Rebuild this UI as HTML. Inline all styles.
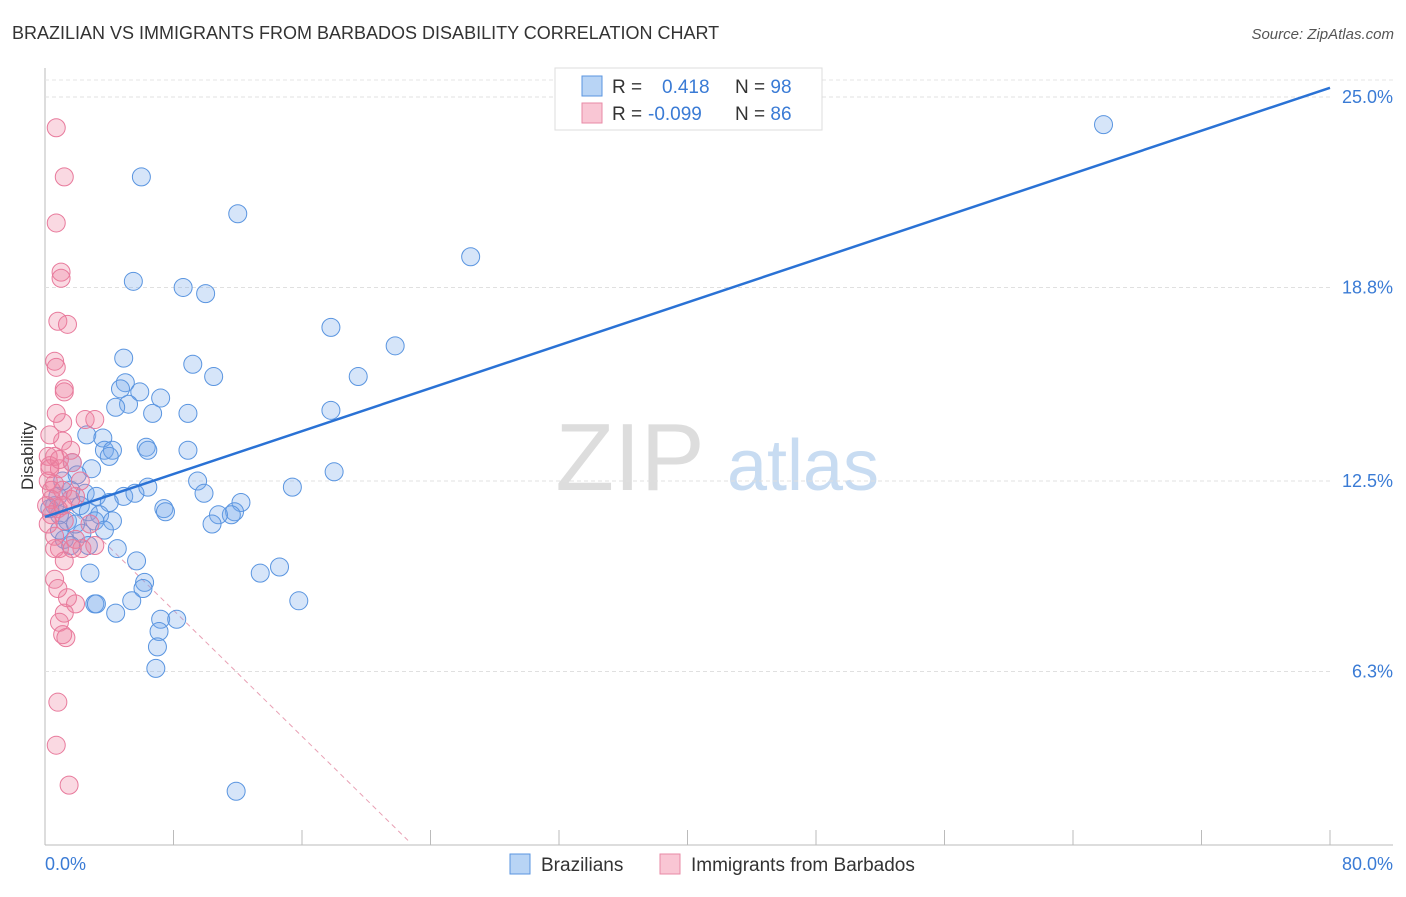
<!DOCTYPE html>
<html><head><meta charset="utf-8"><style>
body{margin:0;background:#fff;font-family:"Liberation Sans",sans-serif}
svg text{font-family:"Liberation Sans",sans-serif}
</style></head><body>
<svg id="c" width="1406" height="892">
<text x="12" y="39" font-size="18" fill="#333">BRAZILIAN VS IMMIGRANTS FROM BARBADOS DISABILITY CORRELATION CHART</text>
<text x="1394" y="39" font-size="15" fill="#555" font-style="italic" text-anchor="end">Source: ZipAtlas.com</text>
<text x="33" y="456" font-size="17" fill="#333" transform="rotate(-90 33 456)" text-anchor="middle">Disability</text>
<g><text x="630" y="490" font-size="96" fill="#ddd" font-family="Liberation Serif" text-anchor="middle">ZIP</text><text x="803" y="490" font-size="72" fill="#c8dcf2" text-anchor="middle">atlas</text></g>
<line x1="45" y1="68" x2="45" y2="845" stroke="#bbb"/>
<line x1="45" y1="845" x2="1393" y2="845" stroke="#bbb"/>
<line x1="45" y1="80" x2="1393" y2="80" stroke="#e4e4e4" stroke-dasharray="4 3"/>
<g id="grid"></g><g id="ticks"></g><g id="lines"></g><g id="pts"></g>
<text x="45" y="870" font-size="18" fill="#3a7bd5">0.0%</text>
<text x="1393" y="870" font-size="18" fill="#3a7bd5" text-anchor="end">80.0%</text>
<g>
<rect x="555" y="68" width="267" height="62" fill="#fff" stroke="#ddd"/>
<rect x="582" y="76" width="20" height="20" fill="#b8d4f5" stroke="#5a95e0"/>
<rect x="582" y="103" width="20" height="20" fill="#f9c6d4" stroke="#e88aa6"/>
<text x="612" y="93" font-size="19" fill="#333">R = <tspan fill="#3a7bd5" x="662">0.418</tspan><tspan x="735">N = </tspan><tspan fill="#3a7bd5">98</tspan></text>
<text x="612" y="120" font-size="19" fill="#333">R = <tspan fill="#3a7bd5" x="648">-0.099</tspan><tspan x="735">N = </tspan><tspan fill="#3a7bd5">86</tspan></text>
</g>
<g>
<rect x="510" y="854" width="20" height="20" fill="#b8d4f5" stroke="#5a95e0"/>
<text x="541" y="871" font-size="19" fill="#333">Brazilians</text>
<rect x="660" y="854" width="20" height="20" fill="#f9c6d4" stroke="#e88aa6"/>
<text x="691" y="871" font-size="19" fill="#333">Immigrants from Barbados</text>
</g>
</svg>
<script>
const yTicks=[25.0,18.8,12.5,6.3];
const yTickLabels=["25.0%","18.8%","12.5%","6.3%"];
const xTicks=[0,8,16,24,32,40,48,56,64,72,80];
const blueX=[65.9,6.0,12.0,26.5,5.5,8.6,10.0,17.8,21.8,4.9,9.2,10.5,19.5,5.0,4.7,5.9,7.2,5.2,4.4,6.7,8.9,17.8,2.6,3.6,6.3,6.4,3.7,4.2,4.0,8.9,1.7,2.9,2.0,18.0,6.4,9.5,15.4,9.9,1.6,2.5,3.2,4.9,5.6,12.2,7.4,7.5,11.8,11.6,10.8,4.0,2.7,3.4,10.4,4.2,1.4,0.9,2.3,4.5,5.7,14.6,13.4,2.8,6.2,6.1,3.1,3.2,5.4,15.8,4.4,7.2,8.2,7.1,7.0,6.9,11.9,0.6,0.9,1.2,1.9,0.3,2.2,0.8,1.6,3.1,1.1,3.7,2.7];
const blueY=[24.1,22.4,21.2,19.8,19.0,18.8,18.6,17.5,16.9,16.5,16.3,15.9,15.9,15.7,15.5,15.4,15.2,15.0,14.9,14.7,14.7,14.8,14.0,13.9,13.6,13.5,13.5,13.5,13.3,13.5,13.1,12.9,12.7,12.8,12.3,12.5,12.3,12.1,12.2,12.1,12.0,12.0,12.1,11.8,11.6,11.5,11.5,11.4,11.4,11.8,11.5,11.4,11.1,11.2,11.2,11.4,10.8,10.3,9.9,9.7,9.5,9.5,9.2,9.0,8.5,8.5,8.6,8.6,8.2,8.0,8.0,7.6,7.1,6.4,2.4,11.7,10.9,10.6,11.1,11.6,11.7,12.0,10.4,11.2,12.5,10.9,10.4];
const pinkX=[0.7,1.2,0.7,1.0,1.0,0.8,1.4,0.6,0.7,1.2,1.2,2.5,3.1,1.1,0.7,1.1,0.3,1.6,0.6,0.3,0.9,1.7,0.2,0.6,1.1,0.4,1.6,1.9,0.8,1.2,2.8,0.6,1.9,0.9,0.6,2.3,1.7,1.2,0.6,0.8,1.4,1.9,1.2,0.9,1.1,1.3,0.8,0.7,1.5,0.2,0.3,0.4,0.1,0.4,0.2,0.9,1.1,2.2,3.1];
const pinkY=[24.0,22.4,20.9,19.3,19.1,17.7,17.6,16.4,16.2,15.5,15.4,14.5,14.5,14.4,14.7,13.8,14.0,13.5,13.3,13.0,12.9,13.1,12.5,12.4,12.2,11.9,11.9,12.0,11.6,11.2,11.1,10.7,10.6,10.3,10.3,10.3,10.3,9.9,9.3,9.0,8.7,8.5,8.2,7.9,7.5,7.4,5.3,3.9,2.6,13.3,12.9,12.2,11.7,11.4,11.1,13.2,11.7,12.5,10.4];
const blueTrend=[[0,11.33],[80,25.3]];
const pinkTrend=[[0,12.4],[22.6,0.8]];
const X=v=>45+v/80*1285, Y=v=>97+(25-v)*30.72;
const NS="http://www.w3.org/2000/svg";
function mk(t,a,p){const e=document.createElementNS(NS,t);for(const k in a)e.setAttribute(k,a[k]);p.appendChild(e);return e;}
const grid=document.getElementById('grid'),ticks=document.getElementById('ticks'),lines=document.getElementById('lines'),pts=document.getElementById('pts');
yTicks.forEach((v,i)=>{
 const l=mk('line',{x1:45,x2:1330,y1:Y(v),y2:Y(v),stroke:'#e0e0e0','stroke-dasharray':'4 3'},grid);
 
 
 const t=mk('text',{x:1393,y:Y(v)+6,'font-size':18,fill:'#3a7bd5','text-anchor':'end'},ticks);
 t.textContent=yTickLabels[i];
 
 
});
xTicks.forEach(v=>{
 const l=mk('line',{x1:X(v),x2:X(v),y1:830,y2:845,stroke:'#bbb'},ticks);
 
 
});
const pl=mk('line',{x1:X(pinkTrend[0][0]),y1:Y(pinkTrend[0][1]),x2:X(pinkTrend[1][0]),y2:Y(pinkTrend[1][1]),stroke:'#e8a0b4','stroke-dasharray':'5 4','stroke-width':1},lines);


blueX.forEach((v,i)=>{
 const c=mk('circle',{cx:X(v),cy:Y(blueY[i]),r:9,fill:'rgba(120,170,235,0.3)',stroke:'#5a95e0','stroke-width':1},pts);
 
 
});
pinkX.forEach((v,i)=>{
 const c=mk('circle',{cx:X(v),cy:Y(pinkY[i]),r:9,fill:'rgba(240,130,160,0.3)',stroke:'#e87a9c','stroke-width':1},pts);
 
 
});
const bl=mk('line',{x1:X(blueTrend[0][0]),y1:Y(blueTrend[0][1]),x2:X(blueTrend[1][0]),y2:Y(blueTrend[1][1]),stroke:'#2a72d5','stroke-width':2.5},pts);


</script>
</body></html>
